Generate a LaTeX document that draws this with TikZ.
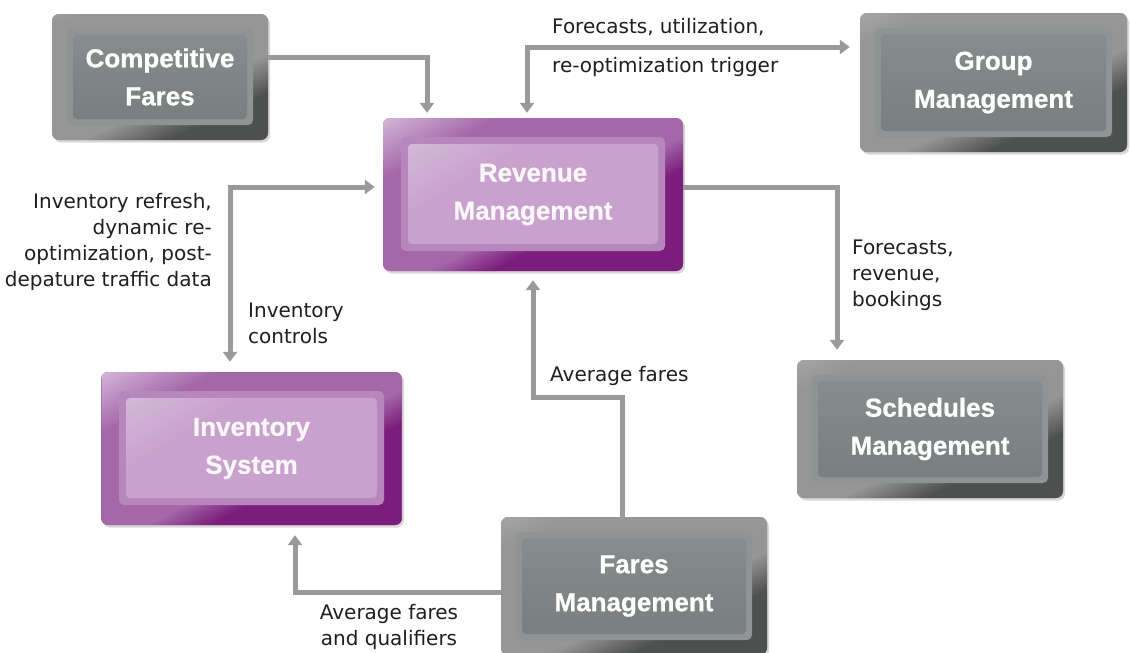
\documentclass[tikz,border=0pt]{standalone}
\usepackage{fontspec}
\setmainfont{DejaVu Sans}
\newfontfamily\boxfamily{Liberation Sans}[BoldFeatures={FakeBold=0.8}]
\usepackage{tikz}
\usetikzlibrary{arrows.meta,shadows}

\definecolor{arrowgray}{HTML}{9A9A9A}
\definecolor{gOutA}{HTML}{BDBDBD}
\definecolor{gOutB}{HTML}{969696}
\definecolor{gOutC}{HTML}{4E504F}
\definecolor{gFrame}{HTML}{909393}
\definecolor{gInTop}{HTML}{8E9292}
\definecolor{gInBot}{HTML}{717979}
\definecolor{pOutA}{HTML}{D8BEDC}
\definecolor{pOutB}{HTML}{A468A8}
\definecolor{pOutC}{HTML}{7B1D7C}
\definecolor{pFrame}{HTML}{B786BC}
\definecolor{pInTop}{HTML}{DDC7E4}
\definecolor{pInMid}{HTML}{C8A2CC}
\definecolor{pInBot}{HTML}{A46CA9}

\pgfdeclarehorizontalshading{grayglass}{100bp}{color(0bp)=(gOutA); color(22bp)=(gOutA); color(35bp)=(gOutB); color(54bp)=(gOutB); color(60bp)=(gOutC); color(100bp)=(gOutC)}
\pgfdeclarehorizontalshading{purpleglass}{100bp}{color(0bp)=(pOutA); color(26bp)=(pOutA); color(36bp)=(pOutB); color(53bp)=(pOutB); color(58bp)=(pOutC); color(100bp)=(pOutC)}
\pgfdeclarehorizontalshading{grayinner}{100bp}{color(0bp)=(gInTop); color(100bp)=(gInBot)}
\pgfdeclarehorizontalshading{purpleinner}{100bp}{color(0bp)=(pInTop); color(25bp)=(pInTop); color(42bp)=(pInMid); color(67bp)=(pInMid); color(73bp)=(pInBot); color(100bp)=(pInBot)}

\tikzset{
  box/.style={rounded corners=7pt, align=center, inner sep=0pt,
    font=\boxfamily\bfseries\fontsize{26}{38}\selectfont,
    drop shadow={shadow xshift=2pt, shadow yshift=-2.5pt, opacity=.3}},
  graybox/.style={box, text=white, fill=gOutB,
    path picture={
      \shade[shading=grayglass, shading angle=-65] ([shift={(-150pt,-150pt)}]path picture bounding box.center) rectangle ([shift={(150pt,150pt)}]path picture bounding box.center);
      \fill[gFrame, rounded corners=5pt] ([shift={(15pt,-15pt)}]path picture bounding box.north west) rectangle ([shift={(-15pt,15pt)}]path picture bounding box.south east);
      \shade[shading=grayinner, shading angle=-90, rounded corners=4pt] ([shift={(21pt,-21pt)}]path picture bounding box.north west) rectangle ([shift={(-21pt,21pt)}]path picture bounding box.south east);
    }},
  purplebox/.style={box, text=white!94!pOutB, fill=pOutB,
    path picture={
      \shade[shading=purpleglass, shading angle=-62] ([shift={(-150pt,-150pt)}]path picture bounding box.center) rectangle ([shift={(150pt,150pt)}]path picture bounding box.center);
      \fill[pFrame, rounded corners=5pt] ([shift={(18pt,-19pt)}]path picture bounding box.north west) rectangle ([shift={(-18pt,20pt)}]path picture bounding box.south east);
      \begin{scope}
        \clip[rounded corners=4pt] ([shift={(25pt,-26pt)}]path picture bounding box.north west) rectangle ([shift={(-25pt,27pt)}]path picture bounding box.south east);
        \shade[shading=purpleinner, shading angle=-58] ([shift={(-150pt,-150pt)}]path picture bounding box.center) rectangle ([shift={(150pt,150pt)}]path picture bounding box.center);
      \end{scope}
    }},
  flow/.style={draw=arrowgray, line width=5pt, -{Triangle[width=14pt,length=10pt]}},
  twoway/.style={flow, {Triangle[width=14pt,length=10pt]}-{Triangle[width=14pt,length=10pt]}},
  lbl/.style={inner sep=0pt, text=black!88, font=\fontsize{20}{26}\selectfont}
}

\begin{document}
\begin{tikzpicture}[x=1pt,y=-1pt]
  \fill[white] (0,0) rectangle (1130,653);
  \useasboundingbox (0,0) rectangle (1130,653);

  \draw (160,77) node[graybox, minimum width=216pt, minimum height=126pt] (compfares) {Competitive\\Fares};
  \draw (533,194.5) node[purplebox, minimum width=300pt, minimum height=153pt] (revmgmt) {Revenue\\Management};
  \draw (993.5,82.5) node[graybox, minimum width=267pt, minimum height=139pt] (groupmgmt) {Group\\Management};
  \draw (930,429) node[graybox, minimum width=266pt, minimum height=138pt] (schedmgmt) {Schedules\\Management};
  \draw (251.5,448.5) node[purplebox, minimum width=301pt, minimum height=153pt] (invsys) {Inventory\\System};
  \draw (634,586) node[graybox, minimum width=266pt, minimum height=138pt] (faresmgmt) {Fares\\Management};

  \draw[flow, shorten >=5pt] ([yshift=20pt]compfares.east) -| ([xshift=-106pt]revmgmt.north);
  \draw[twoway, shorten <=5pt, shorten >=10pt] ([xshift=-6pt]revmgmt.north) |- ([yshift=35.5pt]groupmgmt.west);
  \draw[flow, shorten >=10pt] ([yshift=7.5pt]revmgmt.east) -| ([xshift=-93pt]schedmgmt.north);
  \draw[twoway, shorten <=10pt, shorten >=8pt] ([xshift=-21.5pt]invsys.north) |- ([yshift=7.5pt]revmgmt.west);
  \draw[flow, shorten >=9pt] ([xshift=-12pt]faresmgmt.north) -- ++(0,-119) -| (revmgmt.south);
  \draw[flow, shorten >=10pt] ([yshift=-6pt]faresmgmt.west) -| ([xshift=43.5pt]invsys.south);

  \draw (552,47.5) node[lbl, anchor=west, align=left, font=\fontsize{20}{39}\selectfont] (fcutil) {Forecasts, utilization,\\re-optimization trigger};
  \draw (212,241.5) node[lbl, anchor=east, align=right] (invrefresh) {Inventory refresh,\\dynamic re-\\optimization, post-\\depature traffic data};
  \draw (248,323.5) node[lbl, anchor=west, align=left] (invctrl) {Inventory\\controls};
  \draw (852,275) node[lbl, anchor=west, align=left] (fcrev) {Forecasts,\\revenue,\\bookings};
  \draw (550,376) node[lbl, anchor=west] (avgfares) {Average fares};
  \draw (389,626.5) node[lbl, align=center] (avgqual) {Average fares\\and qualifiers};
\end{tikzpicture}
\end{document}
